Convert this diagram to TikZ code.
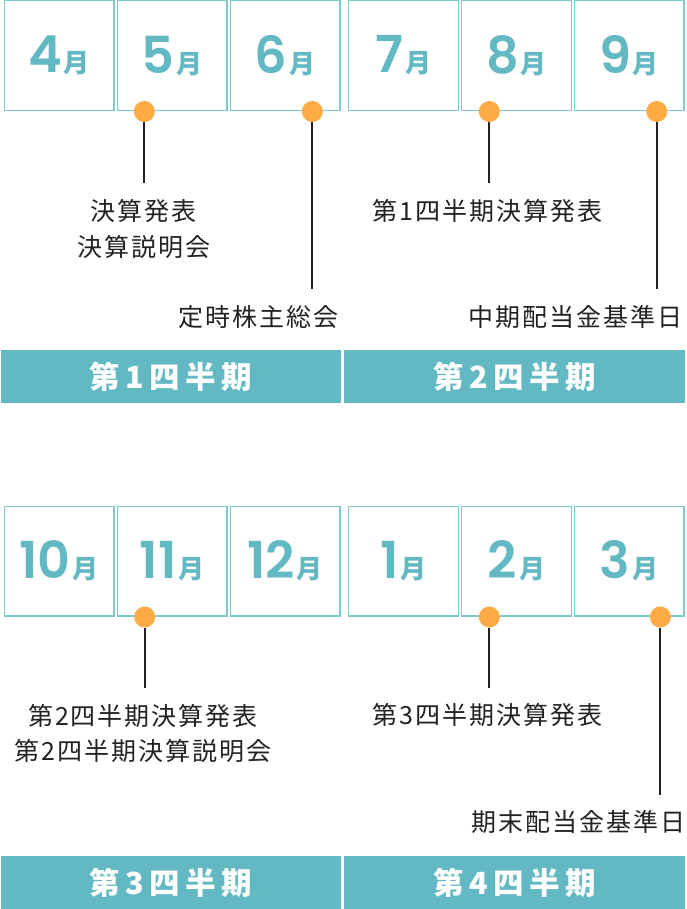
\documentclass[tikz,border=0pt]{standalone}
\usepackage{fontspec}
\setmainfont{Noto Sans CJK JP}
\newfontfamily\jpbody[LetterSpace=8]{Noto Sans CJK JP}
\newfontfamily\jpbar[LetterSpace=18]{Noto Sans CJK JP}
\newfontfamily\jpnum{Noto Sans CJK JP}
\newfontfamily\numfont{Poppins SemiBold}
\definecolor{teal}{HTML}{62B9C4}
\definecolor{boxline}{HTML}{7EC8D0}
\definecolor{dotorange}{HTML}{FFAB45}
\definecolor{ink}{HTML}{222222}
\newcommand{\mon}[1]{{\numfont\fontsize{51}{51}\selectfont #1}\kern2pt{\jpnum\bfseries\fontsize{26}{26}\selectfont 月}}
\tikzset{
  mbox/.style={draw=boxline, line width=1.4pt, fill=white, minimum width=109.6pt, minimum height=109.6pt, inner sep=0pt, text=teal},
  pin/.style={circle, fill=dotorange, minimum size=21pt, inner sep=0pt},
  stem/.style={draw=ink, line width=2pt},
  evt/.style={text=ink, inner sep=0pt, align=center, font=\jpbody\fontsize{25}{35.5}\selectfont},
  qbar/.style={fill=teal, text=white, inner sep=0pt, minimum height=52.7pt, font=\jpbar\bfseries\fontsize{30.5}{31}\selectfont}
}
\begin{document}
\begin{tikzpicture}[x=1pt,y=-1pt]
\useasboundingbox (0,0) rectangle (687,909);
% top row
\node[mbox] (m4)  at (59,55.6)    {\mon{4}};
\node[mbox] (m5)  at (172,55.6)   {\mon{5}};
\node[mbox] (m6)  at (285,55.6)   {\mon{6}};
\node[mbox] (m7)  at (403.5,55.6) {\mon{7}};
\node[mbox] (m8)  at (516.5,55.6) {\mon{8}};
\node[mbox] (m9)  at (629,55.6)   {\mon{9}};
% bottom row
\node[mbox] (m10) at (59,561.2)    {\mon{10}};
\node[mbox] (m11) at (172,561.2)   {\mon{11}};
\node[mbox] (m12) at (285,561.2)   {\mon{12}};
\node[mbox] (m1)  at (403.5,561.2) {\mon{1}};
\node[mbox] (m2)  at (516.5,561.2) {\mon{2}};
\node[mbox] (m3)  at (629,561.2)   {\mon{3}};
% event texts
\node[evt] (t5)  at (143.5,229.2) {決算発表\\決算説明会};
\node[evt] (t6)  at (258,316.7)   {定時株主総会};
\node[evt] (t8)  at (487.5,210.7) {第1四半期決算発表};
\node[evt] (t9)  at (575.3,316.7) {中期配当金基準日};
\node[evt] (t11) at (143,733.3)   {第2四半期決算発表\\第2四半期決算説明会};
\node[evt] (t2)  at (487.5,715)   {第3四半期決算発表};
\node[evt] (t3)  at (578,821.7)   {期末配当金基準日};
% stems ends
\coordinate (e5)  at (144.3,183);
\coordinate (e6)  at (312.3,289);
\coordinate (e8)  at (489.3,183);
\coordinate (e9)  at (656.7,289);
\coordinate (e11) at (144.7,688);
\coordinate (e2)  at (489.3,688);
\coordinate (e3)  at (660.3,795);
% pins
\node[pin] (d5)  at (144.3,111.5) {};
\node[pin] (d6)  at (312.3,111.5) {};
\node[pin] (d8)  at (489.3,111.5) {};
\node[pin] (d9)  at (656.7,111.5) {};
\node[pin] (d11) at (144.7,617)   {};
\node[pin] (d2)  at (489.3,617)   {};
\node[pin] (d3)  at (660.3,617)   {};
\foreach \a in {5,6,8,9,11,2,3} {\draw[stem] (d\a.south) -- (e\a);}
% quarter bars
\node[qbar, minimum width=340pt] (q1) at (171,376.35) {第1四半期};
\node[qbar, minimum width=341pt] (q2) at (514.5,376.35) {第2四半期};
\node[qbar, minimum width=340pt] (q3) at (171,882.5) {第3四半期};
\node[qbar, minimum width=341pt] (q4) at (514.5,882.5) {第4四半期};
\end{tikzpicture}
\end{document}
